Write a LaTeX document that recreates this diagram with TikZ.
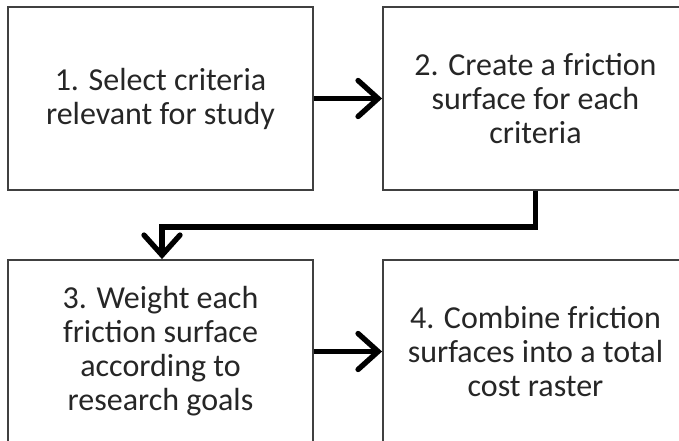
\documentclass[tikz,border=0pt]{standalone}
\usepackage{fontspec}
\setmainfont{Carlito}
\usetikzlibrary{arrows.meta}
\begin{document}
\begin{tikzpicture}[x=0.75pt,y=-0.75pt,
  stepbox/.style={draw=black!75, line width=1.4pt, fill=white, inner sep=0pt,
    minimum width=228.75pt, minimum height=137.25pt, align=center,
    font=\fontsize{24}{25.5}\selectfont, text=black!85},
  flow/.style={line width=4pt, draw=black, line cap=butt,
    -{Straight Barb[length=15pt,width=27pt,line width=4pt,line cap=round]}}]
\useasboundingbox (0,0) rectangle (679,441);
\node[stepbox] (b1) at (160.5,98.5) {1. Select criteria\\relevant for study};
\node[stepbox] (b2) at (535.5,98.5) {2. Create a friction\\surface for each\\criteria};
\node[stepbox] (b3) at (160.5,351.5) {3. Weight each\\friction surface\\according to\\research goals};
\node[stepbox] (b4) at (535.5,351.5) {4. Combine friction\\surfaces into a total\\cost raster};
\draw[flow] (b1.east) -- (b2.west);
\draw[flow] (b3.east) -- (b4.west);
\coordinate (k) at (162,227);
\draw[flow] (b2.south) |- (k) -- (k |- b3.north);
\end{tikzpicture}
\end{document}
